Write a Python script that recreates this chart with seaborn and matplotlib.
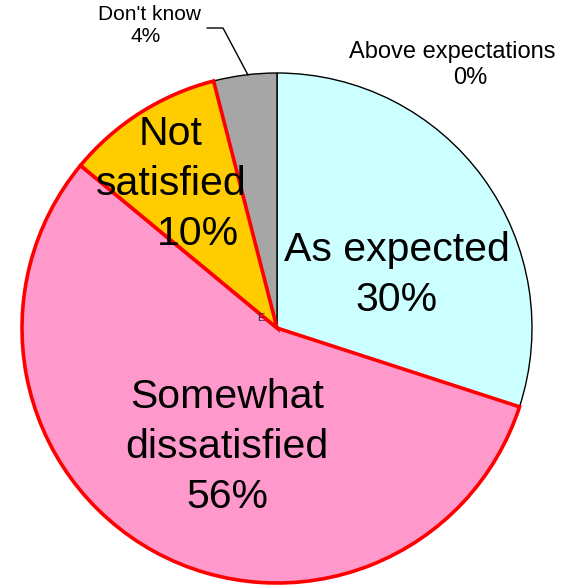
import matplotlib
matplotlib.use("Agg")
import matplotlib.pyplot as plt
import seaborn as sns

sns.set_style("white")
plt.rcParams['font.family'] = ['Liberation Sans', 'DejaVu Sans']
plt.rcParams['text.color'] = 'black'

categories = ["Above expectations", "As expected", "Somewhat dissatisfied", "Not satisfied", "Don't know"]
values = [0, 30, 56, 10, 4]
pct_labels = ["0%", "30%", "56%", "10%", "4%"]
colors = ["#FFFFFF", "#CCFFFF", "#FF99CC", "#FFCC00", "#A6A6A6"]
edge_colors = ["black", "black", "red", "red", "black"]

W, H = 564, 586
fig = plt.figure(figsize=(W / 100, H / 100), dpi=100)
ax = fig.add_axes([0, 0, 1, 1])

cx, cy, R = 277, 328, 255
wedges, _ = ax.pie(values, startangle=-90, counterclock=True, colors=colors,
                   center=(cx, cy), radius=R, frame=True)
ax.set_xlim(0, W)
ax.set_ylim(H, 0)
ax.set_aspect("equal")
ax.axis("off")
for w, ec in zip(wedges, edge_colors):
    w.set_edgecolor(ec)
    if ec == "red":
        w.set_linewidth(2.6)
        w.set_zorder(3)
    else:
        w.set_linewidth(1.0)
        w.set_zorder(2)

big = 29.5
kw = dict(ha="center", va="center", fontsize=big, zorder=5, color="black")
ax.text(397, 250, "As expected", **kw)
ax.text(397, 300, pct_labels[1], **kw)
ax.text(227, 397, "Somewhat", **kw)
ax.text(227, 447, "dissatisfied", **kw)
ax.text(227, 497, pct_labels[2], **kw)
ax.text(171, 134, "Not", **kw)
ax.text(171, 184, "satisfied", **kw)
ax.text(198, 234, pct_labels[3], **kw)

ax.text(452, 52, categories[0], ha="center", va="center", fontsize=17, zorder=5, color="black")
ax.text(470, 78, pct_labels[0], ha="center", va="center", fontsize=17, zorder=5, color="black")
ax.text(149, 15, categories[4], ha="center", va="center", fontsize=15, zorder=5, color="black")
ax.text(146, 37, pct_labels[4], ha="center", va="center", fontsize=15, zorder=5, color="black")
ax.plot([248, 223, 207], [75, 28, 28], color="black", lw=1, zorder=6)

ax.text(261, 318, "E", ha="center", va="center", fontsize=8, color="#3C2850", zorder=6)

fig.savefig("out.png", dpi=100)
